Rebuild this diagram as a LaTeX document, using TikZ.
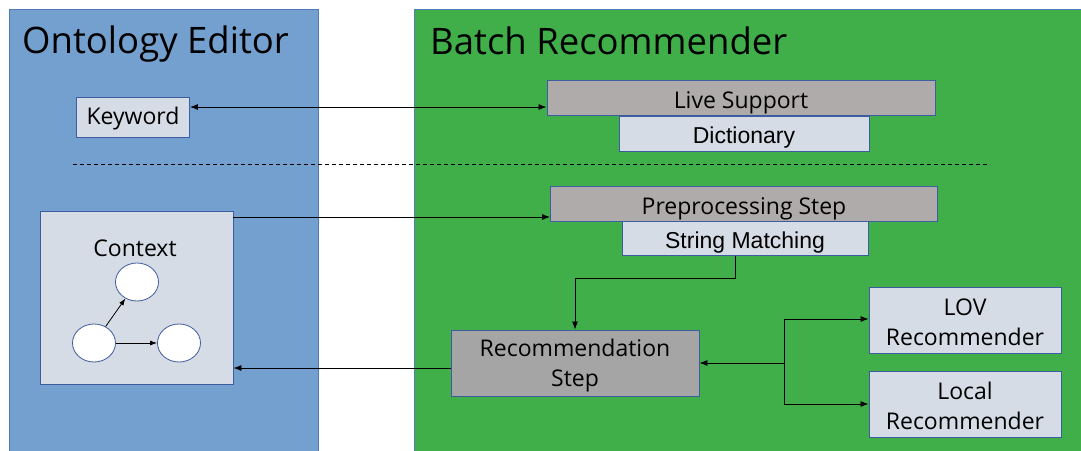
\documentclass[tikz,border=0pt]{standalone}
\usepackage{fontspec}
\setmainfont{Open Sans}
\newfontfamily\arialfont{Liberation Sans}
\usetikzlibrary{arrows.meta,shapes.geometric}

\definecolor{panelblue}{RGB}{116,160,207}
\definecolor{panelgreen}{RGB}{64,175,73}
\definecolor{paneledge}{RGB}{82,122,184}
\definecolor{boxedge}{RGB}{62,92,160}
\definecolor{boxlight}{RGB}{214,220,229}
\definecolor{boxgray}{RGB}{175,171,171}
\definecolor{boxdark}{RGB}{165,165,165}

\tikzset{
  panel/.style={draw=paneledge, line width=1pt},
  box/.style={draw=boxedge, line width=0.9pt, inner sep=0pt, align=center,
              text height=24pt, text depth=4pt,
              font=\fontsize{23}{30}\selectfont},
  lightbox/.style={box, fill=boxlight},
  graybox/.style={box, fill=boxgray},
  darkbox/.style={box, fill=boxdark},
  arialtext/.style={font=\arialfont\fontsize{23}{30}\selectfont},
  twolines/.style={inner sep=0pt, align=center, font=\fontsize{23}{30}\selectfont},
  dot/.style={draw=boxedge, fill=white, ellipse, line width=0.8pt,
              minimum width=43pt, minimum height=38pt, inner sep=0pt},
  link/.style={draw=black, line width=0.8pt, -{Latex[length=8pt,width=6pt]}},
  title/.style={font=\fontsize{36.5}{44}\selectfont, anchor=base west, inner sep=0pt}
}

\begin{document}
\begin{tikzpicture}[x=1pt, y=-1pt]
  \useasboundingbox (0,0) rectangle (1081,450);

  % two panels, running off the bottom edge
  \fill[white] (0,0) rectangle (1081,450);
  \begin{scope}
    \clip (0,0) rectangle (1081,450);
    \draw[panel, fill=panelblue] (9,9) rectangle (318,460);
    \draw[panel, fill=panelgreen] (414,9) rectangle (1090,460);
  \end{scope}

  \node[title] (t1) at (22,53) {Ontology Editor};
  \node[title] (t2) at (430,54) {Batch Recommender};

  % upper part: live support
  \node[lightbox, minimum width=113pt, minimum height=40pt, text height=18pt, text depth=4pt] (kw) at (133,117.5) {Keyword};
  \node[graybox, minimum width=388pt, minimum height=35pt] (live) at (741,98) {Live Support};
  \node[lightbox, minimum width=250pt, minimum height=35pt, arialtext] (dict) at (744,133.5) {Dictionary};

  % separator
  \coordinate (sepL) at (73,164);
  \coordinate (sepR) at (990,164);
  \draw[black, line width=0.8pt, dash pattern=on 4pt off 3pt] (sepL) -- (sepR);

  % lower part: batch processing
  \node[lightbox, minimum width=193pt, minimum height=173pt] (ctx) at (136.5,297.5) {};
  \node[font=\fontsize{23}{29}\selectfont] (ctxlabel) at (135,248) {Context};
  \node[dot] (c1) at (137,282) {};
  \node[dot] (c2) at (94,343) {};
  \node[dot] (c3) at (179,343) {};
  \draw[link, -{Latex[length=7pt,width=5pt]}] (c2) -- (c1);
  \draw[link, -{Latex[length=7pt,width=5pt]}] (c2) -- (c3);

  \node[graybox, minimum width=387pt, minimum height=35pt] (pre) at (744,204) {Preprocessing Step};
  \node[lightbox, minimum width=246pt, minimum height=34pt, arialtext] (sm) at (745,238.5) {String Matching};

  % two-line boxes: frame first, then its label
  \node[darkbox, minimum width=248pt, minimum height=66pt] (rec) at (575,363) {};
  \node[lightbox, minimum width=192pt, minimum height=66pt] (lov) at (965,320) {};
  \node[lightbox, minimum width=192pt, minimum height=66pt] (loc) at (965,404) {};
  \node[twolines, yshift=-3pt] (reclabel) at (rec.center) {Recommendation\\Step};
  \node[twolines, yshift=-2pt] (lovlabel) at (lov.center) {LOV\\Recommender};
  \node[twolines, yshift=-2pt] (loclabel) at (loc.center) {Local\\Recommender};

  % connectors
  \draw[link, {Latex[length=8pt,width=6pt]}-{Latex[length=8pt,width=6pt]}] (kw.east |- 0,107) -- (live.west |- 0,107);
  \draw[link] (ctx.east |- 0,217) -- (pre.west |- 0,217);
  \draw[link] (rec.west |- 0,368) -- (ctx.east |- 0,368);

  \coordinate (bend1) at (735,278);
  \coordinate (bend2) at (575,278);
  \draw[link] (sm.south -| bend1) -- (bend1) -- (bend2) -- (rec.north -| bend2);

  \coordinate (hub) at (784,363);
  \draw[link] (hub) -- (rec.east |- hub);
  \draw[link] (hub) |- (lov.west |- 0,319);
  \draw[link] (hub) |- (loc.west |- 0,404);
\end{tikzpicture}
\end{document}
